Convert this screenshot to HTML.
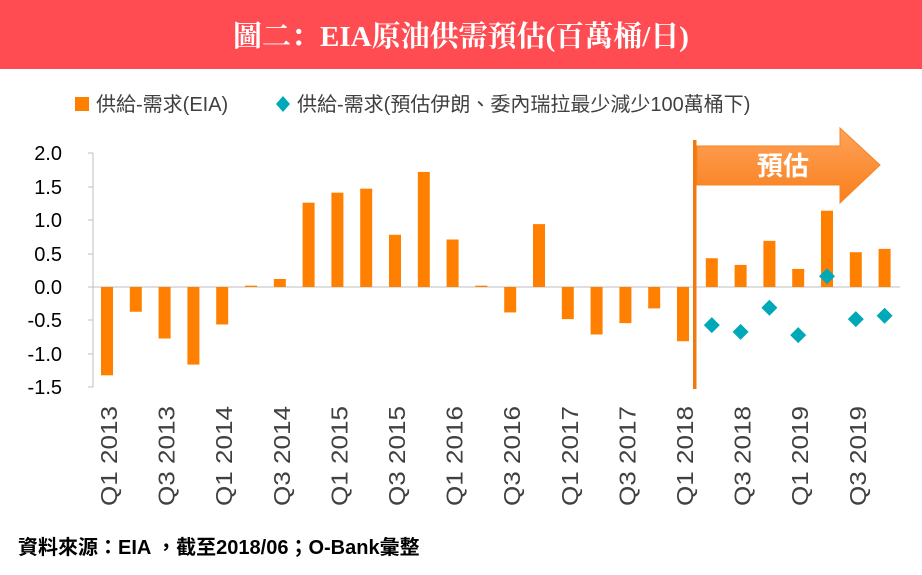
<!DOCTYPE html>
<html><head><meta charset="utf-8"><style>
html,body{margin:0;padding:0;background:#fff;}
svg{display:block;font-family:"Liberation Sans","Noto Sans CJK TC",sans-serif;}
</style></head><body>
<svg width="922" height="575" viewBox="0 0 922 575" xmlns="http://www.w3.org/2000/svg">
<defs>
<linearGradient id="ag" x1="0" y1="0" x2="0" y2="1">
<stop offset="0" stop-color="#ffa25a"/><stop offset="1" stop-color="#f87f1c"/>
</linearGradient>
</defs>
<rect x="0" y="0" width="922" height="69" fill="#ff4b52"/>
<text x="461" y="46" text-anchor="middle" fill="#fff" font-size="29" font-weight="bold" font-family="Liberation Serif,'Noto Serif CJK SC',serif">圖二：EIA原油供需預估(百萬桶/日)</text>
<rect x="75" y="97" width="14" height="14" fill="#ff8000"/>
<text x="96" y="111" font-size="20" fill="#404040">供給-需求(EIA)</text>
<path d="M283 96 L290 104 L283 112 L276 104Z" fill="#00a8b8"/>
<text x="297" y="111" font-size="20" fill="#404040">供給-需求(預估伊朗、委內瑞拉最少減少100萬桶下)</text>
<g font-size="20" fill="#000" text-anchor="end">
<text x="62" y="160">2.0</text><text x="62" y="194">1.5</text><text x="62" y="227">1.0</text><text x="62" y="261">0.5</text><text x="62" y="294">0.0</text><text x="62" y="327">-0.5</text><text x="62" y="361">-1.0</text><text x="62" y="394">-1.5</text>
</g>
<line x1="93" y1="153" x2="93" y2="387" stroke="#bfbfbf"/>
<g stroke="#bfbfbf"><line x1="88" y1="153" x2="93" y2="153"/><line x1="88" y1="187" x2="93" y2="187"/><line x1="88" y1="220" x2="93" y2="220"/><line x1="88" y1="254" x2="93" y2="254"/><line x1="88" y1="287" x2="93" y2="287"/><line x1="88" y1="320" x2="93" y2="320"/><line x1="88" y1="354" x2="93" y2="354"/><line x1="88" y1="387" x2="93" y2="387"/></g>
<line x1="93" y1="287" x2="900" y2="287" stroke="#bfbfbf"/>
<g fill="#ff8000" id="bars"></g>
<g fill="#00a8b8" id="dia"></g>
<g font-size="23" fill="#404040" id="xl"></g>
<rect x="693" y="140" width="3.5" height="249" fill="#f07a10"/>
<path d="M697 146 L840 146 L840 128 L880 165 L840 203 L840 185 L697 185Z" fill="url(#ag)" stroke="#f5841f" stroke-width="1"/>
<text x="783" y="175" text-anchor="middle" fill="#fff" font-size="26" font-weight="bold">預估</text>
<text x="18" y="554" font-size="20" font-weight="bold" fill="#000">資料來源：EIA ，截至2018/06；O-Bank彙整</text>
<script>
var v=[-1.32,-0.37,-0.77,-1.16,-0.56,0.02,0.12,1.26,1.41,1.47,0.78,1.72,0.71,0.02,-0.38,0.94,-0.48,-0.71,-0.54,-0.32,-0.81,0.43,0.33,0.69,0.27,1.14,0.52,0.57];
var d=[-0.57,-0.67,-0.31,-0.72,0.16,-0.48,-0.43];
var ns="http://www.w3.org/2000/svg",z=287,s=66.9;
var b=document.getElementById('bars'),di=document.getElementById('dia'),xl=document.getElementById('xl');
v.forEach(function(val,i){var cx=107+i*28.8;var r=document.createElementNS(ns,'rect');var h=Math.abs(val)*s;r.setAttribute('x',cx-6);r.setAttribute('width',12);r.setAttribute('y',val>=0?z-h:z);r.setAttribute('height',Math.max(h,1));b.appendChild(r);
if(i%2==0){var t=document.createElementNS(ns,'text');t.setAttribute('transform','translate('+(cx+10)+',406) rotate(-90)');t.setAttribute('text-anchor','end');t.setAttribute('textLength','100');t.setAttribute('lengthAdjust','spacingAndGlyphs');var y=2013+Math.floor(i/4);t.textContent='Q'+(i%4+1)+' '+y;xl.appendChild(t);}});
d.forEach(function(val,j){var cx=107+(21+j)*28.8,cy=z-val*s;var p=document.createElementNS(ns,'path');p.setAttribute('d','M'+cx+' '+(cy-8)+' L'+(cx+8)+' '+cy+' L'+cx+' '+(cy+8)+' L'+(cx-8)+' '+cy+'Z');di.appendChild(p);});
</script>
</svg>
</body></html>
